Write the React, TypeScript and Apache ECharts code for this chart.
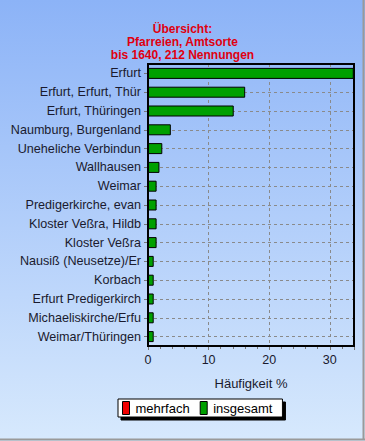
import React, { useEffect, useRef } from "react";
import * as echarts from "echarts";

const titleLines = ["Übersicht:", "Pfarreien, Amtsorte", "bis 1640, 212 Nennungen"];
const categories = [
  "Erfurt",
  "Erfurt, Erfurt, Thür",
  "Erfurt, Thüringen",
  "Naumburg, Burgenland",
  "Uneheliche Verbindun",
  "Wallhausen",
  "Weimar",
  "Predigerkirche, evan",
  "Kloster Veßra, Hildb",
  "Kloster Veßra",
  "Nausiß (Neusetze)/Er",
  "Korbach",
  "Erfurt Predigerkirch",
  "Michaeliskirche/Erfu",
  "Weimar/Thüringen",
];
const insgesamt = [33.96, 16.04, 14.15, 3.77, 2.36, 1.89, 1.42, 1.42, 1.42, 1.42, 0.94, 0.94, 0.94, 0.94, 0.94];
const mehrfach: number[] = [];
const xTicks = [0, 10, 20, 30];
const xMax = 34;
const xName = "Häufigkeit %";
const seriesNames = ["mehrfach", "insgesamt"];

export default function App() {
  const ref = useRef<HTMLDivElement>(null);
  useEffect(() => {
    if (!ref.current) return;
    const chart = echarts.init(ref.current, null, { renderer: "svg" });
    const halfSlots: string[] = [];
    categories.forEach((c) => {
      halfSlots.push(c + "_a");
      halfSlots.push(c + "_b");
    });
    const font = "Arial, 'Liberation Sans', sans-serif";
    chart.setOption({
      animation: false,
      backgroundColor: new echarts.graphic.LinearGradient(0, 0, 0, 1, [
        { offset: 0, color: "#8cb3f7" },
        { offset: 1, color: "#d7e9fd" },
      ]),
      title: {
        text: titleLines.join("\n"),
        left: "center",
        top: 17,
        textStyle: {
          color: "#e00010",
          fontSize: 12,
          fontWeight: "bold",
          fontFamily: font,
          lineHeight: 13,
        },
      },
      graphic: [
        {
          type: "line",
          shape: { x1: 363.5, y1: 0, x2: 363.5, y2: 440 },
          style: { stroke: "#9a9a9a", lineWidth: 2 },
        },
        {
          type: "line",
          shape: { x1: 0, y1: 439.5, x2: 365, y2: 439.5 },
          style: { stroke: "#9a9a9a", lineWidth: 2 },
        },
      ],
      legend: {
        left: 118,
        top: 399,
        data: seriesNames,
        itemWidth: 7,
        itemHeight: 13,
        itemGap: 10,
        padding: [2, 10, 2, 4],
        backgroundColor: "#ffffff",
        borderColor: "#000",
        borderWidth: 1,
        borderRadius: 0,
        shadowColor: "#000",
        shadowOffsetX: 3,
        shadowOffsetY: 3,
        shadowBlur: 0,
        icon: "rect",
        itemStyle: { borderColor: "#000", borderWidth: 1 },
        textStyle: { fontSize: 13, color: "#000", fontFamily: font, padding: [0, 0, 0, 1] },
      },
      grid: {
        left: 148,
        right: 11,
        top: 64,
        bottom: 95,
        show: true,
        borderColor: "#000",
        borderWidth: 2,
        backgroundColor: "transparent",
        z: 3,
      },
      xAxis: {
        type: "value",
        min: 0,
        max: xMax,
        interval: 10,
        name: xName,
        nameLocation: "middle",
        nameGap: 31,
        nameTextStyle: { fontSize: 13, color: "#1a1a2e", fontFamily: font },
        axisLine: { show: true, lineStyle: { color: "#000", width: 2 } },
        axisTick: { show: true, length: 4, lineStyle: { color: "#777" } },
        minorTick: { show: true, splitNumber: 5, length: 3, lineStyle: { color: "#777" } },
        axisLabel: {
          fontSize: 12.5,
          color: "#1a1a2e",
          fontFamily: font,
          margin: 7,
          formatter: (v: number) => (xTicks.includes(v) ? String(v) : ""),
        },
        splitLine: { show: true, lineStyle: { color: "#8a8a8a", type: [3, 3], width: 1 } },
      },
      yAxis: [
        {
          type: "category",
          data: categories,
          inverse: true,
          axisLine: { show: true, lineStyle: { color: "#000", width: 2 } },
          axisTick: { show: true, alignWithLabel: true, length: 4, lineStyle: { color: "#777" } },
          axisLabel: { fontSize: 12.6, color: "#1a1a2e", fontFamily: font, margin: 7, interval: 0 },
          splitLine: { show: false },
        },
        {
          type: "category",
          data: halfSlots,
          inverse: true,
          position: "left",
          axisLine: { show: false },
          axisTick: { show: false },
          axisLabel: { show: false },
          splitLine: {
            show: true,
            interval: (i: number) => i % 2 === 1,
            lineStyle: { color: "#8a8a8a", type: [3, 3], width: 1 },
          },
        },
      ],
      series: [
        {
          name: seriesNames[0],
          type: "bar",
          stack: "s",
          data: mehrfach,
          barWidth: 11,
          itemStyle: { color: "#f00000", borderColor: "#000", borderWidth: 1 },
          z: 4,
        },
        {
          name: seriesNames[1],
          type: "bar",
          stack: "s",
          data: insgesamt,
          barWidth: 11,
          itemStyle: { color: "#00a000", borderColor: "#000", borderWidth: 1 },
          z: 4,
        },
      ],
    });
    return () => chart.dispose();
  }, []);
  return (
    <div
      ref={ref}
      style={{ position: "fixed", left: 0, top: 0, width: 365, height: 441 }}
    />
  );
}
